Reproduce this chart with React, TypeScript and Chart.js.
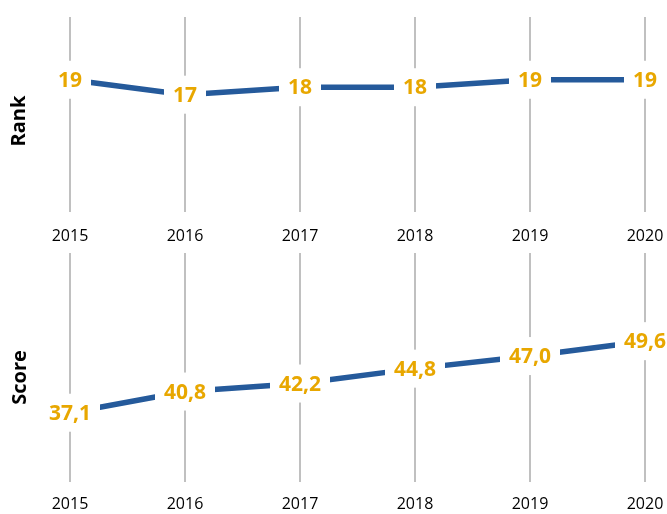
import React, { useEffect, useRef } from "react";
import { Chart, registerables } from "chart.js";

Chart.register(...registerables);

const years = ["2015", "2016", "2017", "2018", "2019", "2020"];
const rankValues = [19, 17, 18, 18, 19, 19];
const scoreValues = [37.1, 40.8, 42.2, 44.8, 47.0, 49.6];
const rankLabels = ["19", "17", "18", "18", "19", "19"];
const scoreLabels = ["37,1", "40,8", "42,2", "44,8", "47,0", "49,6"];

const LINE = "#255A9B";
const GOLD = "#E8A700";
const GRID = "#C0C0C0";
const FONT = "'Open Sans', 'DejaVu Sans', sans-serif";

function makeLabelPlugin(labels: string[], title: string, tx: number, ty: number, tickY: number) {
  return {
    id: "labels_" + title,
    afterDatasetsDraw(chart: any) {
      const ctx = chart.ctx;
      const meta = chart.getDatasetMeta(0);
      ctx.save();
      ctx.font = `bold 21px ${FONT}`;
      ctx.textAlign = "center";
      ctx.textBaseline = "middle";
      meta.data.forEach((pt: any, i: number) => {
        const t = labels[i];
        const w = ctx.measureText(t).width + 18;
        const h = 38;
        ctx.fillStyle = "#ffffff";
        ctx.fillRect(pt.x - w / 2, pt.y - h / 2, w, h);
        ctx.fillStyle = GOLD;
        ctx.fillText(t, pt.x, pt.y + 1);
      });
      ctx.restore();
    },
    afterDraw(chart: any) {
      const ctx = chart.ctx;
      const xs = chart.scales.x;
      ctx.save();
      ctx.font = `16px ${FONT}`;
      ctx.fillStyle = "#000";
      ctx.textAlign = "center";
      ctx.textBaseline = "middle";
      years.forEach((y, i) => {
        ctx.fillText(y, xs.getPixelForValue(i), tickY);
      });
      ctx.restore();

      ctx.save();
      ctx.translate(tx, ty);
      ctx.rotate(-Math.PI / 2);
      ctx.font = `bold 20px ${FONT}`;
      ctx.fillStyle = "#000";
      ctx.textAlign = "center";
      ctx.textBaseline = "middle";
      ctx.fillText(title, 0, 0);
      ctx.restore();
    },
  };
}

function makeConfig(
  values: number[],
  labels: string[],
  title: string,
  tx: number,
  ty: number,
  yMin: number,
  yMax: number,
  padTop: number,
  padBottom: number,
  tickY: number
): any {
  return {
    type: "line",
    data: {
      labels: years,
      datasets: [
        {
          data: values,
          borderColor: LINE,
          borderWidth: 5.5,
          pointRadius: 0,
          tension: 0,
          borderCapStyle: "butt",
          fill: false,
        },
      ],
    },
    options: {
      responsive: false,
      animation: false,
      devicePixelRatio: 1,
      layout: { padding: { left: 70, right: 22, top: padTop, bottom: padBottom } },
      plugins: { legend: { display: false }, tooltip: { enabled: false } },
      scales: {
        x: {
          type: "category",
          offset: false,
          grid: { color: GRID, lineWidth: 2, drawTicks: false },
          border: { display: false },
          ticks: { display: false },
        },
        y: { display: false, min: yMin, max: yMax },
      },
    },
    plugins: [makeLabelPlugin(labels, title, tx, ty, tickY)],
  };
}

export default function App() {
  const ref1 = useRef<HTMLCanvasElement>(null);
  const ref2 = useRef<HTMLCanvasElement>(null);

  useEffect(() => {
    const c1 = new Chart(
      ref1.current as HTMLCanvasElement,
      makeConfig(rankValues, rankLabels, "Rank", 19, 121, 1.3, 27.4, 17, 38, 236)
    );
    const c2 = new Chart(
      ref2.current as HTMLCanvasElement,
      makeConfig(scoreValues, scoreLabels, "Score", 20, 127.5, 25, 65, 3, 32, 254)
    );
    return () => {
      c1.destroy();
      c2.destroy();
    };
  }, []);

  return (
    <div style={{ position: "fixed", left: 0, top: 0, width: 667, height: 514, background: "#fff" }}>
      <canvas ref={ref1} width={667} height={250} style={{ position: "absolute", left: 0, top: 0 }} />
      <canvas ref={ref2} width={667} height={264} style={{ position: "absolute", left: 0, top: 250 }} />
    </div>
  );
}
